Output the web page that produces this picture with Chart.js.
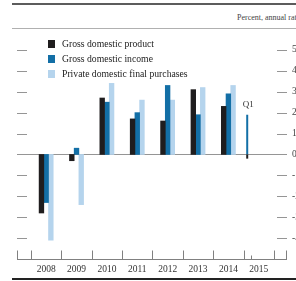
<!DOCTYPE html>
<html>
<head>
<meta charset="utf-8">
<script src="https://cdn.jsdelivr.net/npm/chart.js@4/dist/chart.umd.min.js"></script>
<style>
  body { margin: 0; width: 296px; height: 281px; overflow: hidden; background: #fff; position: relative; font-family: "Liberation Serif", serif; }
  #wrap { position: absolute; left: 0; top: 0; width: 320px; height: 281px; }
  .rule { position: absolute; left: 12px; right: 0; }
  #unit { position: absolute; left: 237px; top: 13px; font-size: 8px; color: #444; white-space: nowrap; }
  #legend { position: absolute; left: 48px; top: 36px; font-size: 9.7px; color: #222; line-height: 15px; }
  #legend span.box { display: inline-block; width: 7px; height: 8px; margin-right: 7px; vertical-align: -1px; }
</style>
</head>
<body>
<div class="rule" style="top:3px;height:2px;background:#5c5c5c"></div>
<div id="unit">Percent, annual rate</div>
<div class="rule" style="top:28px;height:1px;background:#b0b0b0"></div>
<div id="wrap"><canvas id="chart" width="320" height="281"></canvas></div>
<div id="legend"></div>
<div class="rule" style="top:278px;height:2px;background:#222"></div>
<script>
const years = [2008, 2009, 2010, 2011, 2012, 2013, 2014];
const yearLabels = [2008, 2009, 2010, 2011, 2012, 2013, 2014, 2015];
const gdp = [-2.8, -0.3, 2.7, 1.7, 1.6, 3.1, 2.3];
const gdi = [-2.3, 0.3, 2.5, 2.0, 3.3, 1.9, 2.9];
const pdfp = [-4.1, -2.4, 3.4, 2.6, 2.6, 3.2, 3.3];
const q1Label = "Q1";
const q1Pos = 2015.12;
const q1Gdp = -0.2;
const q1Gdi = 1.9;
const yTicks = [-4, -3, -2, -1, 0, 1, 2, 3, 4, 5];

const names = ["Gross domestic product", "Gross domestic income", "Private domestic final purchases"];
const colors = ["#1f1d1e", "#136fa6", "#b5d4ed"];

const toPoints = (vals) => vals.map((v, i) => ({ x: years[i] + 0.5, y: v }));

const legend = document.getElementById("legend");
names.forEach((n, i) => {
  const row = document.createElement("div");
  row.innerHTML = '<span class="box" style="background:' + colors[i] + '"></span>' + n;
  legend.appendChild(row);
});

const deco = {
  id: "deco",
  beforeDatasetsDraw(chart) {
    const { ctx, chartArea: a, scales } = chart;
    const y = scales.y, x = scales.x;
    ctx.save();
    ctx.lineWidth = 1;
    ctx.strokeStyle = "#959595";
    yTicks.forEach(v => {
      const py = Math.round(y.getPixelForValue(v)) + 0.5;
      ctx.beginPath();
      if (v === 0) {
        ctx.moveTo(a.left, py); ctx.lineTo(a.right, py);
      } else {
        ctx.moveTo(a.left, py); ctx.lineTo(a.left + 10, py);
        ctx.moveTo(a.right - 10, py); ctx.lineTo(a.right, py);
      }
      ctx.stroke();
    });
    // x axis line and ticks
    ctx.strokeStyle = "#808080";
    const by = Math.round(a.bottom) + 0.5;
    ctx.beginPath();
    ctx.moveTo(a.left, by); ctx.lineTo(a.right, by);
    [a.left + 0.5, a.right - 0.5].forEach(px => { ctx.moveTo(px, by); ctx.lineTo(px, by - 9); });
    for (let yr = 2008; yr <= 2016; yr++) {
      const px = Math.round(x.getPixelForValue(yr)) + 0.5;
      ctx.moveTo(px, by); ctx.lineTo(px, by - 9);
    }
    const qx = Math.round(x.getPixelForValue(2015.25)) + 0.5;
    ctx.moveTo(qx, by); ctx.lineTo(qx, by - 4);
    ctx.stroke();
    ctx.restore();
  },
  afterDatasetsDraw(chart) {
    const bar = chart.getDatasetMeta(4).data[0];
    const { ctx } = chart;
    ctx.save();
    ctx.fillStyle = "#333";
    ctx.font = '9px "Liberation Serif"';
    ctx.textAlign = "center";
    ctx.textBaseline = "bottom";
    ctx.fillText(q1Label, bar.x + 1, bar.y - 6);
    ctx.restore();
  }
};

new Chart(document.getElementById("chart"), {
  type: "bar",
  data: {
    datasets: [
      { label: names[0], data: toPoints(gdp), backgroundColor: colors[0], barThickness: 4.7 },
      { label: names[1], data: toPoints(gdi), backgroundColor: colors[1], barThickness: 4.7 },
      { label: names[2], data: toPoints(pdfp), backgroundColor: colors[2], barThickness: 4.7 },
      { label: names[0] + " Q1", data: [{ x: q1Pos, y: q1Gdp }], backgroundColor: colors[0], grouped: false, maxBarThickness: 2 },
      { label: names[1] + " Q1", data: [{ x: q1Pos, y: q1Gdi }], backgroundColor: colors[1], grouped: false, maxBarThickness: 2 }
    ]
  },
  options: {
    responsive: false,
    animation: false,
    layout: { padding: { left: 17, top: 29, right: 0, bottom: 0 } },
    plugins: { legend: { display: false }, tooltip: { enabled: false } },
    scales: {
      x: {
        type: "linear",
        min: 2007.54,
        max: 2016.43,
        offset: false,
        grid: { display: false, drawTicks: false },
        border: { display: false },
        afterBuildTicks: (s) => { s.ticks = yearLabels.map(v => ({ value: v + 0.5 })); },
        afterFit: (s) => { s.height = 22; },
        ticks: {
          autoSkip: false,
          maxRotation: 0,
          padding: 5,
          color: "#333",
          font: { family: "Liberation Serif", size: 9.5 },
          callback: (v) => String(Math.floor(v))
        }
      },
      y: { display: false, min: -5, max: 6 },
      y2: {
        position: "right",
        min: -5,
        max: 6,
        grid: { display: false, drawTicks: false },
        border: { display: false },
        afterBuildTicks: (s) => { s.ticks = yTicks.map(v => ({ value: v })); },
        afterFit: (s) => { s.width = 33; },
        ticks: {
          padding: 5,
          color: "#444",
          font: { family: "Liberation Serif", size: 9.5 }
        }
      }
    }
  },
  plugins: [deco]
});
</script>
</body>
</html>
